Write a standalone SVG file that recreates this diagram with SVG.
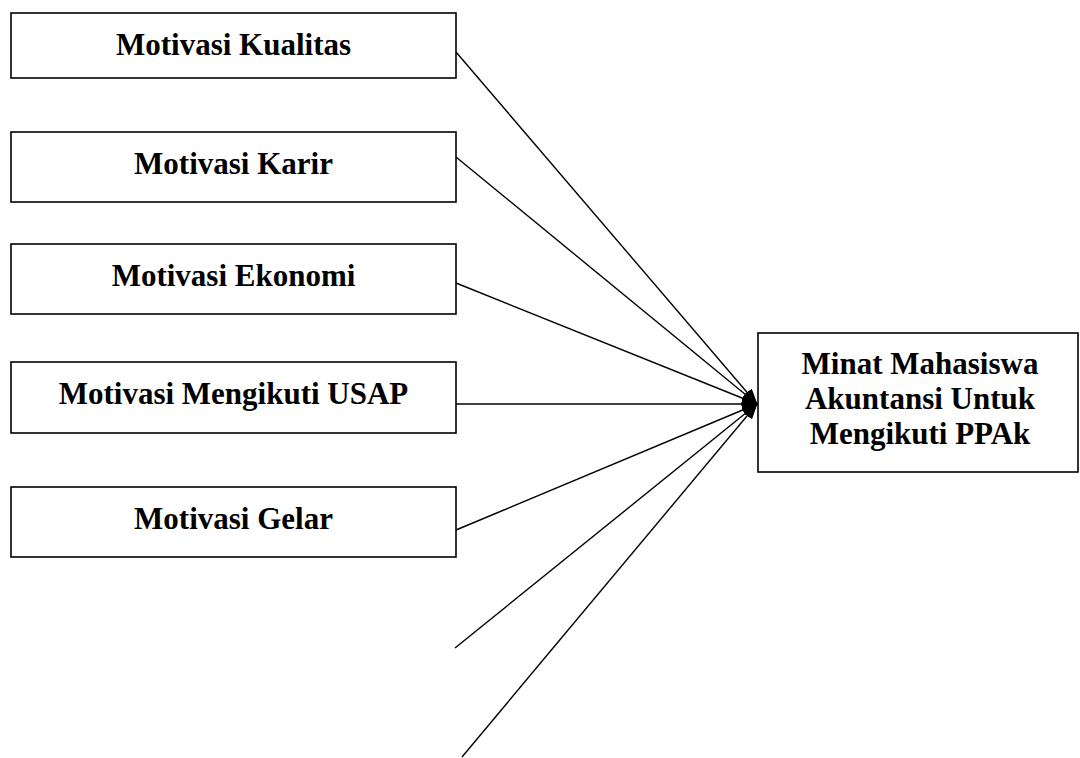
<svg xmlns="http://www.w3.org/2000/svg" width="1080" height="758" viewBox="0 0 1080 758">
<defs>
<marker id="ah" markerWidth="16" markerHeight="12" refX="15" refY="6" orient="auto" markerUnits="userSpaceOnUse">
<path d="M0,0 L16,6 L0,12 z" fill="#000"/>
</marker>
<style>
.box{fill:#fff;stroke:#000;stroke-width:1.6}
.t{font-family:"Liberation Serif","Times New Roman",serif;font-weight:bold;font-size:31px;fill:#000;text-anchor:middle}
.c{stroke:#000;stroke-width:1.4;fill:none;marker-end:url(#ah)}
</style>
</defs>
<rect width="1080" height="758" fill="#fff"/>
<g id="connectors">
<line class="c" x1="456" y1="52" x2="757" y2="404"/>
<line class="c" x1="456" y1="157" x2="757" y2="404"/>
<line class="c" x1="456" y1="283" x2="757" y2="404"/>
<line class="c" x1="456" y1="404" x2="757" y2="404"/>
<line class="c" x1="456" y1="530" x2="757" y2="404"/>
<line class="c" x1="455" y1="648" x2="757" y2="404"/>
<line class="c" x1="462" y1="757" x2="757" y2="404"/>
</g>
<g id="n1"><rect class="box" x="11" y="13" width="445" height="65"/><text class="t" x="233.5" y="55">Motivasi Kualitas</text></g>
<g id="n2"><rect class="box" x="11" y="132" width="445" height="70"/><text class="t" x="233.5" y="174">Motivasi Karir</text></g>
<g id="n3"><rect class="box" x="11" y="244" width="445" height="70"/><text class="t" x="233.5" y="286">Motivasi Ekonomi</text></g>
<g id="n4"><rect class="box" x="11" y="362" width="445" height="71"/><text class="t" x="233.5" y="404">Motivasi Mengikuti USAP</text></g>
<g id="n5"><rect class="box" x="11" y="487" width="445" height="70"/><text class="t" x="233.5" y="529">Motivasi Gelar</text></g>
<g id="target"><rect class="box" x="758" y="333" width="320" height="139"/>
<text class="t" x="920" y="374">Minat Mahasiswa</text>
<text class="t" x="920" y="409">Akuntansi Untuk</text>
<text class="t" x="920" y="444">Mengikuti PPAk</text>
</g>
</svg>
